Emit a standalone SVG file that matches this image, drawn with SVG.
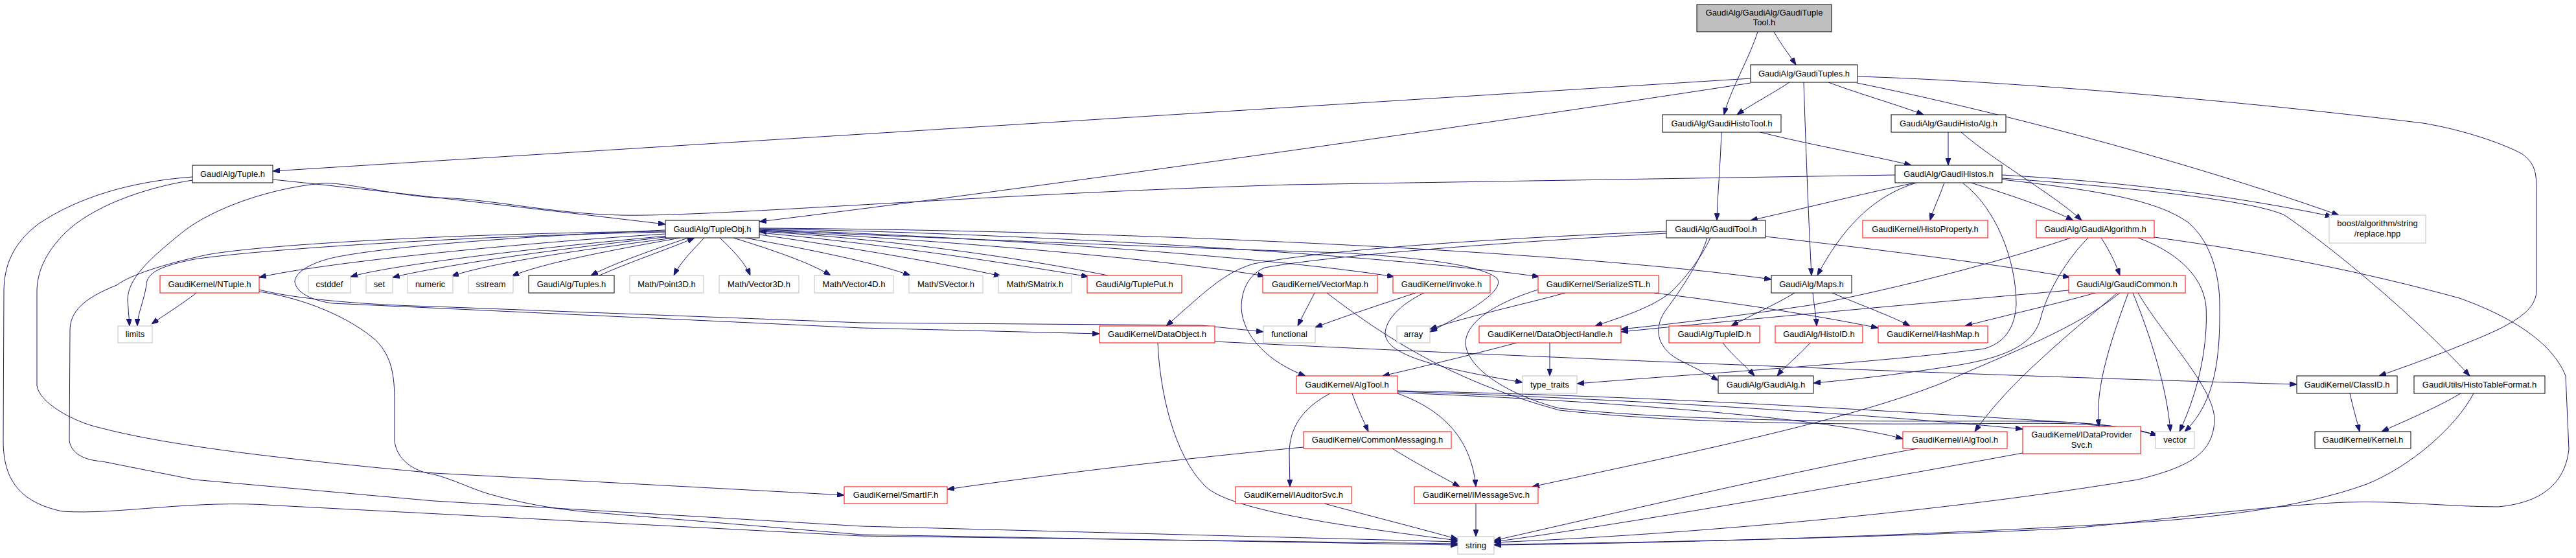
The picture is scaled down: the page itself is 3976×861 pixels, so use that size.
<svg xmlns="http://www.w3.org/2000/svg" width="3976" height="861" viewBox="0 0 3976 861">
<style>
.e{fill:none;stroke:#191970;stroke-width:1;marker-end:url(#a)}
.b rect{fill:#fff;stroke:#000;stroke-width:1}
.r rect{fill:#fff;stroke:#ff0000;stroke-width:1}
.g rect{fill:#fff;stroke:#bfbfbf;stroke-width:1}
.t rect{fill:#bfbfbf;stroke:#000;stroke-width:1}
text{font-family:"Liberation Sans",Arial,sans-serif;font-size:13px;text-anchor:middle;fill:#000}
</style>
<defs>
<marker id="a" markerWidth="11" markerHeight="8" refX="11" refY="4" orient="auto" markerUnits="userSpaceOnUse"><path d="M0,0 L11,4 L0,8 z" fill="#191970" stroke="#191970" stroke-width="1"/></marker>
</defs>
<rect width="3976" height="861" fill="#fff"/>
<g id="edges">
<path class="e" d="M2713,49 C2700,90 2670,140 2661,177"/>
<path class="e" d="M2738,49 C2750,70 2762,85 2772,100"/>
<path class="e" d="M2762,127 C2735,145 2705,160 2681,177"/>
<path class="e" d="M2702,121 L421,264"/>
<path class="e" d="M2702,128 C2300,190 1600,290 1172,342"/>
<path class="e" d="M2822,127 C2870,145 2930,162 2969,177"/>
<path class="e" d="M2784,127 C2788,250 2792,350 2796,425"/>
<path class="e" d="M2866,128 C3050,165 3350,240 3610,332"/>
<path class="e" d="M2867,118 C3100,125 3450,155 3740,190 C3800,200 3860,220 3892,237 C3910,250 3915,262 3915,290 L3915,450 C3913,480 3880,500 3813,527 C3750,553 3700,570 3672,580"/>
<path class="e" d="M2657,204 C2655,260 2651,300 2650,340"/>
<path class="e" d="M2717,204 C2800,225 2890,240 2950,255"/>
<path class="e" d="M3007,204 L3007,255"/>
<path class="e" d="M3027,204 C3080,250 3170,300 3213,340"/>
<path class="e" d="M2956,282 C2870,300 2770,325 2702,340"/>
<path class="e" d="M3001,282 C2995,300 2985,320 2979,340"/>
<path class="e" d="M3042,282 C3100,300 3160,320 3200,340"/>
<path class="e" d="M2958,282 C2900,300 2850,340 2805,425"/>
<path class="e" d="M3090,270 C3300,282 3460,305 3600,334"/>
<path class="e" d="M3090,275 C3300,290 3480,310 3526,332 C3590,375 3720,480 3812,580"/>
<path class="e" d="M3090,277 C3250,295 3330,310 3377,343 C3410,370 3426,420 3426,470 C3427,550 3420,620 3372,666"/>
<path class="e" d="M3029,282 C3080,320 3112,400 3112,470 C3110,510 3090,530 3063,538 C2900,560 2600,578 2434,592"/>
<path class="e" d="M2925,270 L1990,285 C1500,300 1100,335 959,332 C850,330 750,305 670,305 C600,300 530,280 496,283 C420,290 330,320 282,358 C230,400 197,430 197,463 L200,503"/>
<path class="e" d="M421,277 C550,290 850,325 1027,346"/>
<path class="e" d="M297,273 C200,280 120,305 60,345 C20,375 6,410 6,450 L5,680 C5,740 30,775 96,789 C180,795 300,770 427,780 L1330,827 L2250,839"/>
<path class="e" d="M297,278 C220,290 140,320 100,360 C70,390 57,420 57,450 L57,595 C60,620 110,650 154,660 C250,685 400,705 670,730 L1303,764"/>
<path class="e" d="M1027,361 C800,375 500,405 400,428"/>
<path class="e" d="M1030,364 C800,385 600,410 541,427"/>
<path class="e" d="M1035,365 C850,385 680,410 606,428"/>
<path class="e" d="M1040,367 C900,385 760,405 697,426"/>
<path class="e" d="M1050,367 C950,385 840,405 790,426"/>
<path class="e" d="M1062,367 C1010,385 950,405 912,425"/>
<path class="e" d="M925,425 C970,405 1030,385 1072,367"/>
<path class="e" d="M1087,367 C1070,385 1050,405 1040,425"/>
<path class="e" d="M1111,367 C1130,385 1150,405 1158,425"/>
<path class="e" d="M1132,367 C1190,385 1250,405 1282,425"/>
<path class="e" d="M1150,367 C1250,385 1350,405 1405,425"/>
<path class="e" d="M1172,362 C1300,380 1450,405 1545,426"/>
<path class="e" d="M1172,359 C1350,375 1550,405 1680,427"/>
<path class="e" d="M1710,425 C1560,395 1360,368 1172,357"/>
<path class="e" d="M1172,356 C1450,370 1800,400 1952,426"/>
<path class="e" d="M1172,354 C1500,365 1950,395 2152,427"/>
<path class="e" d="M1172,353 C1600,360 2150,395 2376,427"/>
<path class="e" d="M1172,352 C1700,355 2400,385 2734,431"/>
<path class="e" d="M1172,355 C1500,370 1900,385 2070,390 C2200,398 2290,410 2311,430 C2320,445 2290,470 2207,512"/>
<path class="e" d="M1027,355 C800,365 600,380 517,397 C480,405 455,420 455,435 C458,455 490,465 513,468 L1330,506 L1697,515"/>
<path class="e" d="M1027,358 C700,365 400,385 300,400 C250,410 226,420 226,440 C222,465 212,485 212,503"/>
<path class="e" d="M1027,357 C700,360 400,378 320,393 C250,408 200,425 180,440 C130,460 108,480 108,510 L107,680 C110,700 130,710 158,712 L299,740 L670,773 L1330,812 L2250,836"/>
<path class="e" d="M400,447 C450,460 550,470 670,473 L1330,498 L1854,502 L1950,512"/>
<path class="e" d="M303,452 C280,470 255,485 234,500"/>
<path class="e" d="M400,450 C470,460 540,490 580,525 C605,550 609,580 609,620 L609,680 C612,710 640,728 670,732 C700,740 730,755 754,762 C800,775 850,785 908,790 L1330,825 L2250,841"/>
<path class="e" d="M1787,529 C1790,600 1810,700 1860,750 C1900,790 2100,815 2250,834"/>
<path class="e" d="M1875,527 C2300,548 3000,578 3545,593"/>
<path class="e" d="M2572,357 C2300,368 2050,385 1935,407 C1890,420 1860,450 1800,503"/>
<path class="e" d="M2572,360 C2300,375 2050,395 1952,413 C1925,425 1916,450 1916,475 C1918,520 1960,560 2015,580"/>
<path class="e" d="M2640,367 C2625,400 2600,430 2580,450 C2550,475 2500,490 2462,503"/>
<path class="e" d="M2635,367 C2625,400 2600,440 2570,480 C2550,510 2560,540 2595,557 C2615,567 2635,577 2652,587"/>
<path class="e" d="M2725,365 C2900,385 3100,410 3195,428"/>
<path class="e" d="M3243,367 C3255,385 3265,405 3272,425"/>
<path class="e" d="M3223,367 C3190,400 3160,450 3150,490 C3140,530 3100,550 3025,563 C2950,575 2870,585 2799,591"/>
<path class="e" d="M3196,367 C3100,400 2950,440 2800,470 C2700,485 2600,498 2502,508"/>
<path class="e" d="M3300,367 C3350,385 3400,420 3405,473 C3408,530 3395,600 3364,666"/>
<path class="e" d="M3325,366 C3500,390 3650,420 3796,460 C3880,490 3940,530 3960,580 L3965,693 C3960,740 3930,775 3856,782 C3780,782 3700,772 3620,775 C3500,780 3300,806 3200,815 C2900,830 2500,838 2306,840"/>
<path class="e" d="M3234,452 C3170,470 3090,488 3033,503"/>
<path class="e" d="M3193,448 C3000,465 2700,492 2502,512"/>
<path class="e" d="M3268,452 C3200,510 3100,590 3048,666"/>
<path class="e" d="M3285,452 C3260,520 3232,600 3240,658"/>
<path class="e" d="M3272,452 C3200,510 3100,545 3000,590 C2850,650 2600,700 2365,751"/>
<path class="e" d="M3292,452 C3320,520 3345,600 3350,666"/>
<path class="e" d="M3300,452 C3340,520 3420,600 3418,650 C3415,700 3380,720 3300,740 C3000,790 2600,825 2306,837"/>
<path class="e" d="M2770,452 C2740,470 2700,488 2672,503"/>
<path class="e" d="M2798,452 C2800,470 2803,488 2804,503"/>
<path class="e" d="M2828,452 C2870,470 2920,488 2948,503"/>
<path class="e" d="M2659,529 C2675,550 2695,565 2708,580"/>
<path class="e" d="M2794,529 C2775,550 2755,565 2743,580"/>
<path class="e" d="M2553,452 C2700,470 2820,490 2899,506"/>
<path class="e" d="M2416,452 C2350,470 2250,492 2207,508"/>
<path class="e" d="M2374,447 C2300,470 2262,500 2262,530 C2265,570 2330,610 2407,630 C2700,660 3100,645 3200,652 C3260,656 3300,662 3330,672"/>
<path class="e" d="M2029,452 C2020,470 2010,488 2003,503"/>
<path class="e" d="M2048,452 C2150,530 2250,590 2407,633 C2700,665 3100,650 3200,654 C3260,657 3300,663 3330,672"/>
<path class="e" d="M2185,452 C2130,470 2070,490 2030,505"/>
<path class="e" d="M2198,452 C2160,470 2138,495 2138,515 C2140,545 2200,565 2350,590"/>
<path class="e" d="M2341,529 C2280,545 2200,565 2134,580"/>
<path class="e" d="M2392,529 L2392,580"/>
<path class="e" d="M2087,607 C2095,630 2105,650 2112,666"/>
<path class="e" d="M2053,607 C2010,630 1990,660 1990,700 L1991,751"/>
<path class="e" d="M2157,607 C2220,630 2270,670 2278,751"/>
<path class="e" d="M2157,606 C2400,615 2800,640 2937,677"/>
<path class="e" d="M2157,604 C2500,615 2900,640 3122,662"/>
<path class="e" d="M2157,603 C2600,612 3000,640 3200,652 C3260,656 3300,662 3330,672"/>
<path class="e" d="M2149,692 C2185,715 2225,735 2253,751"/>
<path class="e" d="M2012,690 C1800,710 1600,735 1462,755"/>
<path class="e" d="M2278,777 L2278,828"/>
<path class="e" d="M2044,777 C2110,795 2190,815 2250,832"/>
<path class="e" d="M2960,692 C2800,720 2500,790 2306,834"/>
<path class="e" d="M3122,699 C2900,740 2500,810 2306,836"/>
<path class="e" d="M3798,607 C3760,630 3710,650 3676,666"/>
<path class="e" d="M3818,607 C3790,660 3720,720 3653,747 C3550,785 3400,800 3300,806 C3000,825 2600,838 2306,841"/>
<path class="e" d="M3627,607 C3632,630 3638,650 3642,666"/>
</g>
<g id="n0" class="t"><rect x="2619" y="7" width="208" height="42"/><text x="2723" y="24">GaudiAlg/GaudiAlg/GaudiTuple</text><text x="2723" y="39">Tool.h</text></g>
<g id="n1" class="b"><rect x="2702" y="100" width="165" height="27"/><text x="2784.5" y="118">GaudiAlg/GaudiTuples.h</text></g>
<g id="n2" class="b"><rect x="2566" y="177" width="183" height="27"/><text x="2657.5" y="195">GaudiAlg/GaudiHistoTool.h</text></g>
<g id="n3" class="b"><rect x="2919" y="177" width="177" height="27"/><text x="3007.5" y="195">GaudiAlg/GaudiHistoAlg.h</text></g>
<g id="n4" class="b"><rect x="297" y="255" width="124" height="27"/><text x="359" y="273">GaudiAlg/Tuple.h</text></g>
<g id="n5" class="b"><rect x="2925" y="255" width="165" height="27"/><text x="3007.5" y="273">GaudiAlg/GaudiHistos.h</text></g>
<g id="n6" class="b"><rect x="1027" y="340" width="145" height="27"/><text x="1099.5" y="358">GaudiAlg/TupleObj.h</text></g>
<g id="n7" class="b"><rect x="2572" y="340" width="153" height="27"/><text x="2648.5" y="358">GaudiAlg/GaudiTool.h</text></g>
<g id="n8" class="r"><rect x="2875" y="340" width="193" height="27"/><text x="2971.5" y="358">GaudiKernel/HistoProperty.h</text></g>
<g id="n9" class="r"><rect x="3143" y="340" width="182" height="27"/><text x="3234" y="358">GaudiAlg/GaudiAlgorithm.h</text></g>
<g id="n10" class="g"><rect x="3595" y="332" width="149" height="43"/><text x="3669.5" y="349">boost/algorithm/string</text><text x="3669.5" y="365">/replace.hpp</text></g>
<g id="n11" class="r"><rect x="247" y="425" width="153" height="27"/><text x="323.5" y="443">GaudiKernel/NTuple.h</text></g>
<g id="n12" class="g"><rect x="476" y="425" width="65" height="27"/><text x="508.5" y="443">cstddef</text></g>
<g id="n13" class="g"><rect x="565" y="425" width="41" height="27"/><text x="585.5" y="443">set</text></g>
<g id="n14" class="g"><rect x="629" y="425" width="70" height="27"/><text x="664" y="443">numeric</text></g>
<g id="n15" class="g"><rect x="723" y="425" width="69" height="27"/><text x="757.5" y="443">sstream</text></g>
<g id="n16" class="b"><rect x="816" y="425" width="132" height="27"/><text x="882" y="443">GaudiAlg/Tuples.h</text></g>
<g id="n17" class="g"><rect x="972" y="425" width="114" height="27"/><text x="1029" y="443">Math/Point3D.h</text></g>
<g id="n18" class="g"><rect x="1110" y="425" width="123" height="27"/><text x="1171.5" y="443">Math/Vector3D.h</text></g>
<g id="n19" class="g"><rect x="1257" y="425" width="122" height="27"/><text x="1318" y="443">Math/Vector4D.h</text></g>
<g id="n20" class="g"><rect x="1403" y="425" width="114" height="27"/><text x="1460" y="443">Math/SVector.h</text></g>
<g id="n21" class="g"><rect x="1541" y="425" width="113" height="27"/><text x="1597.5" y="443">Math/SMatrix.h</text></g>
<g id="n22" class="r"><rect x="1678" y="425" width="146" height="27"/><text x="1751" y="443">GaudiAlg/TuplePut.h</text></g>
<g id="n23" class="r"><rect x="1949" y="425" width="177" height="27"/><text x="2037.5" y="443">GaudiKernel/VectorMap.h</text></g>
<g id="n24" class="r"><rect x="2150" y="425" width="150" height="27"/><text x="2225" y="443">GaudiKernel/invoke.h</text></g>
<g id="n25" class="r"><rect x="2374" y="425" width="186" height="27"/><text x="2467" y="443">GaudiKernel/SerializeSTL.h</text></g>
<g id="n26" class="b"><rect x="2734" y="425" width="124" height="27"/><text x="2796" y="443">GaudiAlg/Maps.h</text></g>
<g id="n27" class="r"><rect x="3193" y="425" width="180" height="27"/><text x="3283" y="443">GaudiAlg/GaudiCommon.h</text></g>
<g id="n28" class="g"><rect x="182" y="503" width="53" height="26"/><text x="208.5" y="520">limits</text></g>
<g id="n29" class="r"><rect x="1697" y="503" width="178" height="26"/><text x="1786" y="520">GaudiKernel/DataObject.h</text></g>
<g id="n30" class="g"><rect x="1950" y="503" width="80" height="26"/><text x="1990" y="520">functional</text></g>
<g id="n31" class="g"><rect x="2156" y="503" width="51" height="26"/><text x="2181.5" y="520">array</text></g>
<g id="n32" class="r"><rect x="2283" y="503" width="219" height="26"/><text x="2392.5" y="520">GaudiKernel/DataObjectHandle.h</text></g>
<g id="n33" class="r"><rect x="2576" y="503" width="140" height="26"/><text x="2646" y="520">GaudiAlg/TupleID.h</text></g>
<g id="n34" class="r"><rect x="2740" y="503" width="135" height="26"/><text x="2807.5" y="520">GaudiAlg/HistoID.h</text></g>
<g id="n35" class="r"><rect x="2899" y="503" width="169" height="26"/><text x="2983.5" y="520">GaudiKernel/HashMap.h</text></g>
<g id="n36" class="r"><rect x="2001" y="580" width="156" height="27"/><text x="2079" y="598">GaudiKernel/AlgTool.h</text></g>
<g id="n37" class="g"><rect x="2350" y="580" width="84" height="27"/><text x="2392" y="598">type_traits</text></g>
<g id="n38" class="b"><rect x="2652" y="580" width="147" height="27"/><text x="2725.5" y="598">GaudiAlg/GaudiAlg.h</text></g>
<g id="n39" class="b"><rect x="3545" y="580" width="155" height="27"/><text x="3622.5" y="598">GaudiKernel/ClassID.h</text></g>
<g id="n40" class="b"><rect x="3726" y="580" width="202" height="27"/><text x="3827" y="598">GaudiUtils/HistoTableFormat.h</text></g>
<g id="n41" class="r"><rect x="2012" y="666" width="228" height="26"/><text x="2126" y="683">GaudiKernel/CommonMessaging.h</text></g>
<g id="n42" class="r"><rect x="2937" y="666" width="161" height="26"/><text x="3017.5" y="683">GaudiKernel/IAlgTool.h</text></g>
<g id="n43" class="r"><rect x="3122" y="658" width="182" height="42"/><text x="3213" y="675">GaudiKernel/IDataProvider</text><text x="3213" y="691">Svc.h</text></g>
<g id="n44" class="g"><rect x="3327" y="666" width="60" height="26"/><text x="3357" y="683">vector</text></g>
<g id="n45" class="b"><rect x="3573" y="666" width="148" height="26"/><text x="3647" y="683">GaudiKernel/Kernel.h</text></g>
<g id="n46" class="r"><rect x="1303" y="751" width="159" height="26"/><text x="1382.5" y="768">GaudiKernel/SmartIF.h</text></g>
<g id="n47" class="r"><rect x="1907" y="751" width="179" height="26"/><text x="1996.5" y="768">GaudiKernel/IAuditorSvc.h</text></g>
<g id="n48" class="r"><rect x="2183" y="751" width="191" height="26"/><text x="2278.5" y="768">GaudiKernel/IMessageSvc.h</text></g>
<g id="n49" class="g"><rect x="2250" y="828" width="56" height="27"/><text x="2278" y="846">string</text></g>
</svg>
